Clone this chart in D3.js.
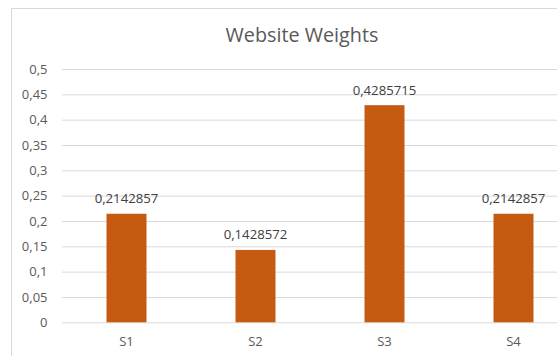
<!DOCTYPE html>
<html><head><meta charset="utf-8">
<script src="https://cdn.jsdelivr.net/npm/d3@7"></script>
<style>body{margin:0;background:#fff;overflow:hidden}text{font-family:"Open Sans",sans-serif}</style>
</head><body><svg id="c" width="557" height="356"></svg>
<script>
const categories = ["S1","S2","S3","S4"];
const values = [0.2142857, 0.1428572, 0.4285715, 0.2142857];
const valueLabels = ["0,2142857","0,1428572","0,4285715","0,2142857"];
const yTicks = [0,0.05,0.1,0.15,0.2,0.25,0.3,0.35,0.4,0.45,0.5];
const yTickLabels = ["0","0,05","0,1","0,15","0,2","0,25","0,3","0,35","0,4","0,45","0,5"];
const title = "Website Weights";

(function(){
const svg = d3.select("#c");
const pl = 62, pr = 578, pt = 69, pb = 322.3;
svg.append("rect").attr("x",11.5).attr("y",8.5).attr("width",620).attr("height",400)
  .attr("fill","#fff").attr("stroke","#d9d9d9").attr("stroke-width",1);

const x = d3.scaleBand().domain(categories).range([pl,pr]).paddingInner(0.69).paddingOuter(0.345);
const y = d3.scaleLinear().domain([0,0.5]).range([pb,pt]);

const yAxis = d3.axisLeft(y).tickValues(yTicks).tickFormat((d,i)=>yTickLabels[i]).tickSize(-(pr-pl)).tickPadding(14.5);
const gy = svg.append("g").attr("transform",`translate(${pl},0)`).call(yAxis);
gy.select(".domain").remove();
gy.selectAll(".tick line").attr("stroke","#d9d9d9").attr("stroke-width",1);
gy.selectAll(".tick text").attr("fill","#595959").attr("font-size",13).attr("font-family","Open Sans");

const xAxis = d3.axisBottom(x).tickSize(0).tickPadding(14.5);
const gx = svg.append("g").attr("transform",`translate(0,${pb})`).call(xAxis);
gx.select(".domain").remove();
gx.selectAll(".tick text").attr("fill","#595959").attr("font-size",13).attr("font-family","Open Sans");

svg.append("g").selectAll("rect").data(values).join("rect")
  .attr("x",(d,i)=>x(categories[i])).attr("width",x.bandwidth())
  .attr("y",d=>y(d)).attr("height",d=>y(0)-y(d)).attr("fill","#C55A11");

svg.append("g").selectAll("text").data(values).join("text")
  .attr("x",(d,i)=>x(categories[i])+x.bandwidth()/2).attr("y",d=>y(d)-10.5)
  .attr("text-anchor","middle").attr("fill","#404040").attr("font-size",13.2)
  .text((d,i)=>valueLabels[i]);

svg.append("text").attr("x",302).attr("y",42).attr("text-anchor","middle")
  .attr("fill","#595959").attr("font-size",19.8).text(title);
})();
</script></body></html>
